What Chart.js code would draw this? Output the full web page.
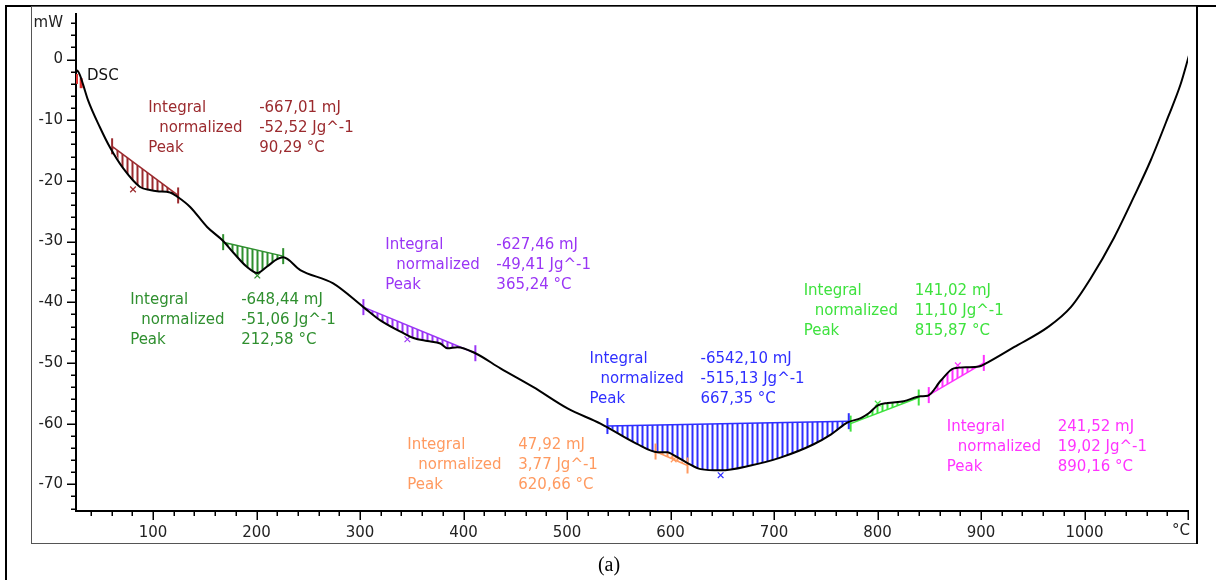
<!DOCTYPE html>
<html>
<head>
<meta charset="utf-8">
<script src="https://cdn.jsdelivr.net/npm/chart.js@4"></script>
<style>
  body { margin: 0; background: #fff; }
  .chart_box { position: relative; width: 1216px; height: 580px; }
</style>
</head>
<body>
<div class="chart_box"><canvas id="dsc"></canvas></div>
<script>
// DSC curve
const temps = [25.5, 26.5, 29.4, 32.3, 37.1, 48.7, 58.4, 71, 87.4, 97, 103.9, 116.4, 124.2, 135.8, 152.2,
  167.7, 177.4, 190.8, 200.7, 210.2, 219.9, 225.7, 242.2, 274, 303.2, 319.6, 341.9, 351.6, 365, 377.6,
  384.4, 394, 411.4, 435.6, 467.5, 500.4, 532.3, 567, 587.4, 597, 603, 616.4, 629, 648.4, 677.4, 706.1,
  738.3, 754.8, 771.2, 783.8, 791.5, 800.2, 809.8, 825.4, 841.8, 848.6, 861.2, 873.7, 887, 898, 906.6,
  931.8, 964.6, 986.8, 1006.2, 1028.4, 1047.8, 1064, 1080.7, 1093, 1101];
const heatFlow = [-2.1, -1.8, -2.6, -4.1, -6.7, -11.2, -14.5, -17.9, -21.0, -21.5, -21.7, -21.9, -22.7, -24.3, -27.6,
  -29.9, -31.8, -34.2, -35.2, -34.1, -32.9, -32.6, -34.7, -36.9, -40.8, -43.0, -45.1, -45.9, -46.4, -46.8,
  -47.6, -47.4, -48.4, -50.9, -54.0, -57.5, -60.0, -63.3, -64.7, -64.7, -65.2, -66.5, -67.5, -67.7, -66.9, -65.6,
  -63.4, -61.8, -59.8, -59.1, -58.3, -57.0, -56.6, -56.3, -55.5, -55.4, -52.9, -50.9, -50.7, -50.6, -49.9,
  -47.4, -44.1, -40.8, -36.0, -29.4, -22.6, -16.6, -9.5, -4.0, 0.7];

// integrated peaks: red, green, purple, blue, orange, light green, pink
const regionStart = [60.4, 167.7, 303.2, 539, 585.5, 774, 849.5];
const regionEnd = [124.2, 225.7, 411.4, 772.2, 616.4, 839.8, 902.7];
const baseFrom = [-14.3, -30.1, -40.8, -60.4, -64.6, -60.0, -55.3];
const baseTo = [-22.4, -32.4, -48.4, -59.6, -66.9, -55.7, -50.0];
const peakMarkT = [80.6, 200.7, 345.7, 648.4, 603, 800.2, 877.6];
const peakMarkY = [-21.4, -35.6, -46.1, -68.5, -65.9, -56.7, -50.4];

const integrals = [-667.01, -648.44, -627.46, -6542.10, 47.92, 141.02, 241.52];
const normalized = [-52.52, -51.06, -49.41, -515.13, 3.77, 11.10, 19.02];
const peakTemps = [90.29, 212.58, 365.24, 667.35, 620.66, 815.87, 890.16];

// axis ticks
const xTicks = [];
for (let t = 40; t <= 1100; t += 20) xTicks.push(t);
const yTicks = [];
for (let v = -74; v <= 6; v += 2) yTicks.push(v);

// where each text block sits (°C, mW of the first line)
const labelT = [95.2, 77.8, 324.4, 521.7, 345.6, 728.6, 866.9];
const labelY = [-8.0, -39.7, -30.6, -49.4, -63.6, -38.2, -60.6];

const colors = ['#9b2a2e', '#2f8f2f', '#9a35f5', '#2f2fff', '#ff9a60', '#3ee23e', '#ff33ff'];

Chart.defaults.font.family = 'DejaVu Sans';
Chart.defaults.font.size = 15;

function hatch(color) {
  const c = document.createElement('canvas');
  c.width = 5; c.height = 5;
  const x = c.getContext('2d');
  x.fillStyle = color;
  x.fillRect(1.5, 0, 2, 5);
  return x.createPattern(c, 'repeat');
}

const fmt = v => v.toFixed(2).replace('.', ',');
const curve = temps.map((t, k) => ({ x: t, y: heatFlow[k] }));

const datasets = [{
  data: curve,
  showLine: true,
  borderColor: '#000',
  borderWidth: 2,
  pointRadius: 0,
  cubicInterpolationMode: 'monotone',
  order: 0
}];

regionStart.forEach((t0, i) => {
  const t1 = regionEnd[i];
  const inner = curve.filter(p => p.x > t0 && p.x < t1);
  datasets.push({
    data: [{ x: t0, y: baseFrom[i] }, ...inner, { x: t1, y: baseTo[i] }],
    showLine: true,
    borderWidth: 0,
    borderColor: 'rgba(0,0,0,0)',
    pointRadius: 0,
    cubicInterpolationMode: 'monotone',
    backgroundColor: hatch(colors[i]),
    fill: '+1',
    order: 4
  });
  datasets.push({
    data: [{ x: t0, y: baseFrom[i] }, { x: t1, y: baseTo[i] }],
    showLine: true,
    borderColor: colors[i],
    borderWidth: 1.5,
    pointRadius: 0,
    fill: false,
    order: 3
  });
  // start / end markers
  datasets.push({
    data: [{ x: t0, y: baseFrom[i] }, { x: t1, y: baseTo[i] }],
    showLine: false,
    pointStyle: 'line',
    rotation: 90,
    pointRadius: 8,
    pointBorderWidth: 2,
    pointBorderColor: colors[i],
    order: 1
  });
  // peak marker
  datasets.push({
    data: [{ x: peakMarkT[i], y: peakMarkY[i] }],
    showLine: false,
    pointStyle: 'crossRot',
    pointRadius: 4,
    pointBorderWidth: 1.2,
    pointBorderColor: colors[i],
    order: 1
  });
});

// red mark at the start of the curve
datasets.push({
  data: [{ x: 26, y: -3.2 }, { x: 30.5, y: -3.9 }],
  showLine: false,
  pointStyle: 'line',
  rotation: 90,
  pointRadius: 5,
  pointBorderWidth: 3,
  pointBorderColor: '#e03030',
  order: 1
});

const decor = {
  id: 'decor',
  beforeDraw(chart) {
    const c = chart.ctx;
    c.save();
    c.fillStyle = '#fff';
    c.fillRect(0, 0, chart.width, chart.height);
    c.strokeStyle = '#000';
    c.lineWidth = 2;
    c.beginPath(); c.moveTo(6, 580); c.lineTo(6, 6); c.lineTo(1216, 6); c.stroke();
    c.lineWidth = 1;
    c.strokeStyle = '#555';
    c.strokeRect(31.5, 6.5, 1166, 537);
    c.lineWidth = 2;
    c.strokeStyle = '#000';
    c.beginPath(); c.moveTo(1197, 6); c.lineTo(1197, 544); c.stroke();
    c.restore();
  },
  afterDraw(chart) {
    const c = chart.ctx;
    const xs = chart.scales.x, ys = chart.scales.y;
    const area = chart.chartArea;
    c.save();
    // axis ticks
    c.strokeStyle = '#000';
    c.lineWidth = 1.5;
    c.beginPath();
    xs.ticks.forEach(t => {
      const p = Math.round(xs.getPixelForValue(t.value)) + 0.25;
      const len = t.value % 100 === 0 ? 9 : 5;
      c.moveTo(p, area.bottom); c.lineTo(p, area.bottom + len);
    });
    ys.ticks.forEach(t => {
      const p = Math.round(ys.getPixelForValue(t.value)) + 0.25;
      const len = t.value % 10 === 0 ? 9 : 5;
      c.moveTo(area.left - len, p); c.lineTo(area.left, p);
    });
    c.stroke();
    c.font = '15px "DejaVu Sans"';
    c.fillStyle = '#222';
    c.textAlign = 'right';
    c.textBaseline = 'top';
    c.fillText('°C', xs.getPixelForValue(1100) + 2, area.bottom + 13);
    // DSC label
    c.textAlign = 'left';
    c.textBaseline = 'middle';
    c.fillStyle = '#111';
    c.fillText('DSC', xs.getPixelForValue(36.2), ys.getPixelForValue(-2.75));
    // peak results
    labelT.forEach((t, i) => {
      const x = xs.getPixelForValue(t);
      const y = ys.getPixelForValue(labelY[i]);
      c.fillStyle = colors[i];
      c.fillText('Integral', x, y);
      c.fillText(fmt(integrals[i]) + ' mJ', x + 111, y);
      c.fillText('normalized', x + 11, y + 20);
      c.fillText(fmt(normalized[i]) + ' Jg^-1', x + 111, y + 20);
      c.fillText('Peak', x, y + 40);
      c.fillText(fmt(peakTemps[i]) + ' °C', x + 111, y + 40);
    });
    // caption
    c.fillStyle = '#000';
    c.font = '20px "Liberation Serif"';
    c.textAlign = 'center';
    c.fillText('(a)', 609, 566);
    c.restore();
  }
};

new Chart(document.getElementById('dsc'), {
  type: 'scatter',
  data: { datasets },
  plugins: [decor],
  options: {
    responsive: true,
    maintainAspectRatio: false,
    animation: false,
    layout: { padding: { left: 16, right: 28, top: 14, bottom: 29 } },
    plugins: { legend: { display: false }, tooltip: { enabled: false } },
    scales: {
      x: {
        type: 'linear',
        min: 25.5,
        max: 1100,
        border: { display: true, color: '#000', width: 2 },
        grid: { display: false, drawTicks: true, tickLength: 9 },
        afterBuildTicks: s => { s.ticks = xTicks.map(value => ({ value })); },
        afterFit: s => { s.height = 40; },
        ticks: {
          autoSkip: false,
          maxRotation: 0,
          padding: 4,
          color: '#222',
          callback: v => (v % 100 === 0 && v < 1100 ? v : '')
        }
      },
      y: {
        type: 'linear',
        min: -74.4,
        max: 7.5,
        border: { display: true, color: '#000', width: 2 },
        grid: { display: false, drawTicks: true, tickLength: 9 },
        afterBuildTicks: s => { s.ticks = yTicks.map(value => ({ value })); },
        afterFit: s => { s.width = 60; },
        ticks: {
          autoSkip: false,
          padding: 4,
          color: '#222',
          callback: v => (v % 10 === 0 ? v : (v === 6 ? 'mW' : ''))
        }
      }
    }
  }
});
</script>
</body>
</html>
